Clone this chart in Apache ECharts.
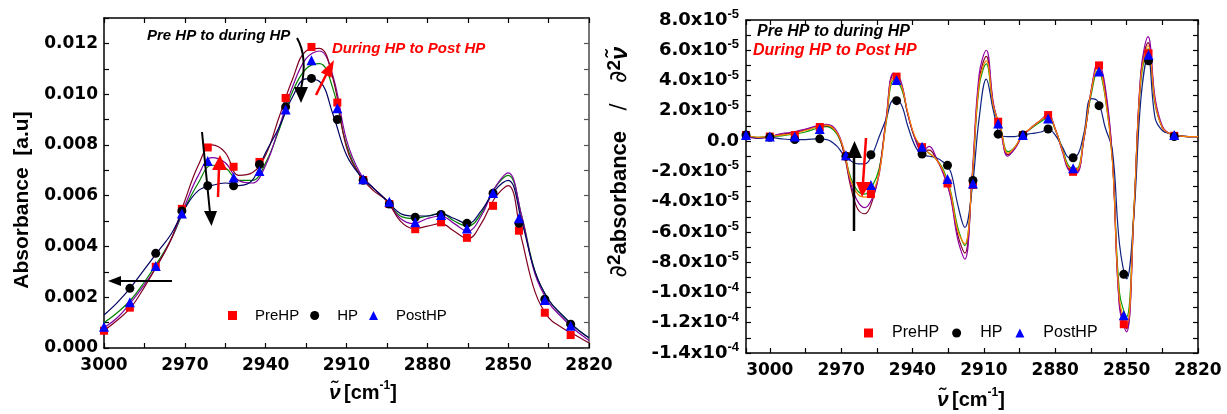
<!DOCTYPE html>
<html><head><meta charset="utf-8">
<script src="https://cdn.jsdelivr.net/npm/echarts@6/dist/echarts.min.js"></script>
<style>html,body{margin:0;padding:0;background:#fff}#c{width:1227px;height:414px}</style>
</head><body><div id="c"></div>
<script>
// ---------- LEFT PANEL: absorbance spectra ----------
const L_WN = [3000,2995,2990,2985,2980,2975,2970,2965,2960,2955,2950,2945,2940,2935,2930,2925,2920,2915,2910,2905,2900,2895,2890,2885,2880,2875,2870,2865,2860,2855,2850,2845,2840,2835,2830,2825,2820];
const L_MAROON = [0.00068,0.0011,0.0016,0.0024,0.0033,0.0043,0.0058,0.0072,0.0080,0.0077,0.0068,0.0069,0.0076,0.0091,0.0106,0.0117,0.0118,0.0106,0.0079,0.0068,0.0062,0.0058,0.0050,0.0047,0.0048,0.0049,0.0046,0.0043,0.0049,0.0059,0.0064,0.0043,0.0022,0.0012,0.0008,0.0005,0.0002];
const L_PURPLE = [0.0008,0.0012,0.0018,0.0025,0.0033,0.0043,0.0056,0.0068,0.0075,0.0073,0.0066,0.0065,0.0072,0.0087,0.0103,0.0114,0.0117,0.0107,0.0082,0.0069,0.0063,0.0058,0.0051,0.0049,0.0051,0.0052,0.0049,0.0046,0.0052,0.0063,0.0069,0.0052,0.0029,0.0018,0.0012,0.0007,0.0003];
const L_GREEN = [0.0010,0.0014,0.0019,0.0026,0.0034,0.0043,0.0055,0.0065,0.0072,0.0071,0.0066,0.0066,0.0073,0.0086,0.0101,0.0110,0.0112,0.0102,0.0080,0.0068,0.0063,0.0058,0.0052,0.0051,0.0052,0.0053,0.0050,0.0048,0.0053,0.0063,0.0068,0.0052,0.0030,0.0019,0.0013,0.0008,0.0004];
const L_NAVY = [0.0013,0.0018,0.0024,0.0031,0.0038,0.0045,0.0055,0.0062,0.0064,0.0065,0.0064,0.0066,0.0077,0.0087,0.0099,0.0106,0.0105,0.0092,0.0076,0.0068,0.0063,0.0058,0.0053,0.0052,0.0052,0.0053,0.0051,0.0049,0.0054,0.0062,0.0066,0.0050,0.0030,0.0019,0.0013,0.0008,0.0004];
// markers
const L_MK_WN = [3000,2990.4,2980.8,2971.1,2961.5,2951.9,2942.3,2932.6,2923.0,2913.4,2903.8,2894.1,2884.5,2874.9,2865.3,2855.6,2846.0,2836.4,2826.8];
const L_PRE  = [0.00068,0.00159,0.00320,0.00548,0.00790,0.00714,0.00733,0.00985,0.01186,0.00967,0.00662,0.00567,0.00468,0.00495,0.00434,0.00560,0.00462,0.00139,0.00051];
const L_HP   = [null,0.00235,0.00373,0.00540,0.00639,0.00639,0.00723,0.00950,0.01062,0.00900,0.00661,0.00567,0.00515,0.00526,0.00491,0.00610,0.00491,0.00192,0.00094];
const L_POST = [0.00084,0.00180,0.00323,0.00530,0.00737,0.00672,0.00697,0.00940,0.01134,0.00944,0.00665,0.00576,0.00495,0.00524,0.00471,0.00611,0.00511,0.00189,0.00088];

// ---------- RIGHT PANEL: second derivative (values in units of 1e-5) ----------
const R_WN = [3010,3005,3000,2995,2990,2985,2980,2976,2972,2969,2966,2963,2960,2957,2954,2951,2948,2945,2942,2939,2936,2933,2930,2927,2924,2921,2918,2915,2912,2909,2906,2903,2900,2897,2894,2890,2886,2883,2880,2877,2874,2871,2868,2865,2862,2859,2856,2853,2850,2847,2844,2841,2838,2835,2832,2828,2824,2820];
const R_ORANGE = [0.4,0.25,0.3,0.4,0.5,0.7,0.95,1.05,0.6,-0.5,-2.6,-3.5,-3.7,-3.4,-2.1,1.4,4.2,3.8,1.9,0.3,-0.4,-0.8,-1.2,-2.0,-3.4,-5.9,-6.8,-2.6,3.8,5.3,2.3,0.9,-0.8,-0.4,0.35,0.9,1.4,1.7,0.8,-0.6,-1.8,-1.9,0.2,3.2,5.0,3.0,-1.3,-10.5,-12.1,-4.8,4.2,6.3,2.5,0.9,0.5,0.35,0.3,0.3];
const R_NAVY = [0.4,0.2,0.25,0.15,0.1,0.1,0.15,0.1,-0.3,-0.9,-1.3,-1.5,-1.5,-0.9,0.3,1.5,2.7,2.5,1.0,-0.3,-0.9,-1.0,-1.1,-1.4,-2.0,-4.2,-5.7,-3.2,1.5,4.1,2.0,0.4,0.3,0.3,0.4,0.5,0.6,0.8,0.4,-0.4,-1.1,-1.0,0.5,2.8,2.6,0.9,-0.6,-6.8,-9.1,-5.0,2.8,5.6,1.5,0.7,0.5,0.35,0.3,0.3];
const R_PURPLE = [0.3,0.2,0.3,0.5,0.6,0.8,1.0,1.1,0.7,-0.5,-2.8,-4.0,-4.4,-3.8,-2.2,1.6,4.5,4.0,1.8,0.2,-0.7,-0.35,-1.1,-2.2,-3.7,-6.5,-7.8,-2.4,4.4,6.0,2.5,0.7,-1.0,-0.5,0.3,0.9,1.4,1.8,0.8,-0.7,-2.0,-2.1,0.1,3.3,5.2,3.6,-1.0,-11.0,-12.6,-5.0,4.6,6.9,2.8,1.0,0.5,0.35,0.3,0.3];
const R_MAROON = [0.35,0.2,0.3,0.45,0.55,0.75,0.95,1.0,0.6,-0.7,-3.0,-4.5,-4.8,-4.0,-2.0,1.6,4.4,3.9,1.8,0.2,-0.6,-0.6,-1.2,-2.1,-3.6,-6.2,-7.4,-2.6,4.0,5.6,2.4,0.8,-0.9,-0.5,0.3,0.9,1.4,1.7,0.8,-0.6,-1.9,-2.0,0.1,3.2,5.1,3.3,-1.1,-10.8,-12.4,-4.9,4.4,6.5,2.6,0.9,0.5,0.35,0.3,0.3];
const R_GREEN = [0.4,0.25,0.3,0.35,0.45,0.6,0.85,0.95,0.5,-0.6,-2.4,-3.3,-3.5,-3.0,-1.8,1.3,4.0,3.6,1.8,0.2,-0.4,-0.8,-1.2,-1.9,-3.3,-5.7,-6.9,-2.7,3.6,5.1,2.2,0.9,-0.7,-0.4,0.35,0.85,1.3,1.55,0.75,-0.5,-1.7,-1.8,0.2,3.0,4.7,2.9,-1.2,-10.0,-11.6,-4.7,4.0,6.1,2.4,0.9,0.5,0.35,0.3,0.3];
// markers
const R_MK_WN = [3010,3000,2989.5,2979,2968,2957.5,2946.7,2936,2925.3,2914.6,2904,2893.6,2883,2872.5,2861.6,2851.2,2840.8,2830];
const R_PRE  = [0.4,0.3,0.4,0.93,-1.0,-3.5,4.26,-0.4,-2.8,-2.9,1.28,0.4,1.72,-2.03,5.0,-12.1,5.8,0.35];
const R_HP   = [0.4,0.25,0.1,0.15,-1.0,-0.9,2.67,-0.86,-1.6,-2.6,0.46,0.4,0.8,-1.1,2.34,-8.8,5.3,0.3];
const R_POST = [0.4,0.3,0.3,0.8,-0.93,-2.9,4.04,-0.38,-2.5,-2.8,1.17,0.4,1.5,-1.8,4.6,-11.5,5.7,0.4];

const LEGEND = ['PreHP','HP','PostHP'];

// ---------- build ----------
const FF = '"Liberation Sans", Arial, Helvetica, sans-serif';
const FD = '"DejaVu Sans", sans-serif';
function pairs(xs, ys){ const o=[]; for(let i=0;i<xs.length;i++){ if(ys[i]!==null) o.push([xs[i], ys[i]]);} return o; }

function xAx(grid, max, top){
  return {
    gridIndex: grid, type:'value', min:2820, max:max, interval:15, inverse:true,
    position: top ? 'top' : 'bottom',
    axisLine:{show:true, onZero:false, lineStyle:{color:'#000', width:1.5}},
    axisTick:{show:true, inside:true, length:5, lineStyle:{color:'#000', width:1.2}},
    splitLine:{show:false},
    axisLabel: top ? {show:false} : {show:true, margin:9, color:'#000', fontFamily:FD, fontWeight:'bold', fontSize:17,
      formatter: v => (Math.round(v)%30===0 && v<=3000) ? String(Math.round(v)) : ''}
  };
}
function yAxL(right){
  return {
    gridIndex:0, type:'value', min:0, max:0.013, interval:0.001, position: right?'right':'left',
    axisLine:{show:true, onZero:false, lineStyle:{color: right?'#777':'#000', width: right?2:1.5}},
    axisTick:{show:true, inside:true, length:5, lineStyle:{color: right?'#555':'#000', width:1.2}},
    splitLine:{show:false},
    axisLabel: right ? {show:false} : {show:true, margin:6, color:'#000', fontFamily:FD, fontWeight:'bold', fontSize:17,
      formatter: v => { const k=Math.round(v*1000); return (k%2===0) ? (k/1000).toFixed(3) : ''; }}
  };
}
function sciLabel(v){
  const r = Math.round(v);
  if (r % 2 !== 0) return '';
  if (r === 0) return '{m|0.0}';
  if (Math.abs(r) >= 10) return '{m|' + (r/10).toFixed(1) + 'x10}{s|-4}';
  return '{m|' + r.toFixed(1) + 'x10}{s|-5}';
}
function yAxR(right){
  return {
    gridIndex:1, type:'value', min:-14, max:8, interval:1, position: right?'right':'left',
    axisLine:{show:true, onZero:false, lineStyle:{color:'#000', width:1.5}},
    axisTick:{show:true, inside:true, length:5, lineStyle:{color:'#000', width:1.2}},
    splitLine:{show:false},
    axisLabel: right ? {show:false} : {show:true, margin:7, color:'#000', formatter: sciLabel,
      rich:{
        m:{fontFamily:FD, fontWeight:'bold', fontSize:18, color:'#000', lineHeight:24},
        s:{fontFamily:FF, fontWeight:'bold', fontSize:13, color:'#000', verticalAlign:'top', lineHeight:24}
      }}
  };
}

function lineS(xi, yi, xs, ys, color, z){
  return {type:'line', xAxisIndex:xi, yAxisIndex:yi, data:pairs(xs, ys), smooth:0.4, showSymbol:false,
    lineStyle:{color:color, width:1.2}, itemStyle:{color:color}, z:z||2, silent:true, animation:false};
}
function mkS(name, xi, yi, xs, ys, symbol, size, color, z){
  return {type:'scatter', name:name, xAxisIndex:xi, yAxisIndex:yi, data:pairs(xs, ys), symbol:symbol, symbolSize:size,
    itemStyle:{color:color, opacity:1}, z:z, animation:false};
}

const series = [
  lineS(0,0,L_WN,L_GREEN,'#008000'),
  lineS(0,0,L_WN,L_PURPLE,'#8000A0'),
  lineS(0,0,L_WN,L_MAROON,'#800020'),
  lineS(0,0,L_WN,L_NAVY,'#000060'),
  mkS('PreHP',0,0,L_MK_WN,L_PRE,'rect',8,'#FF0000',5),
  mkS('HP',0,0,L_MK_WN,L_HP,'circle',9,'#000000',6),
  mkS('PostHP',0,0,L_MK_WN,L_POST,'triangle',10,'#0000FF',7),

  lineS(2,2,R_WN,R_GREEN,'#00A000'),
  lineS(2,2,R_WN,R_MAROON,'#800020'),
  lineS(2,2,R_WN,R_PURPLE,'#9000A0'),
  lineS(2,2,R_WN,R_NAVY,'#102080'),
  lineS(2,2,R_WN,R_ORANGE,'#FF8000'),
  mkS('PreHP',2,2,R_MK_WN,R_PRE,'rect',8,'#FF0000',5),
  mkS('HP',2,2,R_MK_WN,R_HP,'circle',9,'#000000',6),
  mkS('PostHP',2,2,R_MK_WN,R_POST,'triangle',10,'#0000FF',7)
];

function arrow(x1,y1,x2,y2,head,color,w){
  return [
    {type:'line', shape:{x1:x1,y1:y1,x2:x2,y2:y2}, style:{stroke:color, lineWidth:w}, z:100},
    {type:'polygon', shape:{points:head}, style:{fill:color}, z:100}
  ];
}
function txt(x,y,text,font,color){
  return {type:'text', x:x, y:y, z:100, style:{text:text, font:font, fill:color, align:'left', verticalAlign:'middle', textAlign:'left', textVerticalAlign:'middle'}};
}
const bi15 = 'italic bold 15px ' + FF;
const bi16 = 'italic bold 16px ' + FF;

const graphic = [].concat(
  [txt(147,36,'Pre HP to during HP',bi15,'#000'),
   txt(332,49,'During HP to Post HP',bi15,'#FF0000'),
   txt(757,32,'Pre HP to during HP',bi16,'#000'),
   txt(753,51,'During HP to Post HP',bi16,'#FF0000')],
  [{type:'bezierCurve', shape:{x1:297,y1:38,cpx1:307,cpy1:55,cpx2:304,cpy2:75,x2:301,y2:89}, style:{stroke:'#000', lineWidth:2, fill:null}, z:100},
   {type:'polygon', shape:{points:[[294,87],[308,87],[301,103]]}, style:{fill:'#000'}, z:100}],
  arrow(316,95,328,71,[[320.9,72.4],[331.5,77.8],[334,60]],'#FF0000',2.5),
  arrow(202,132,210,213,[[204,211],[217,211],[211.5,226]],'#000',2),
  arrow(218,197,219,168,[[212,170],[227,170],[220,155]],'#FF0000',2.5),
  arrow(172,281,118,281,[[121,276],[121,286],[108,281]],'#000',2),
  arrow(854,231,854,156,[[847,158],[862,158],[854.5,141]],'#000',2.5),
  arrow(866,138,863,183,[[856,182],[871,182],[862,197]],'#FF0000',2.5),
  [
    {type:'text', x:22, y:200, rotation:Math.PI/2, z:100,
      style:{text:'Absorbance  [a.u]', font:'bold 21px ' + FF, fill:'#000', align:'center', verticalAlign:'middle', textAlign:'center', textVerticalAlign:'middle'}},
    {type:'text', x:620, y:162, rotation:Math.PI/2, z:100,
      style:{text:'{d|\u2202}{s|2}{b|absorbance}{g|/}{d|\u2202}{s|2}{n|\u03BD\u0303}', align:'center', verticalAlign:'middle', textAlign:'center', textVerticalAlign:'middle',
        rich:{
          d:{fontFamily:FD, fontSize:24, fill:'#000', color:'#000', lineHeight:30},
          s:{fontFamily:FF, fontWeight:'bold', fontSize:19, fill:'#000', color:'#000', verticalAlign:'top', lineHeight:30},
          b:{fontFamily:FF, fontWeight:'bold', fontSize:22, fill:'#000', color:'#000', lineHeight:30},
          g:{fontFamily:FD, fontSize:21, fill:'#000', color:'#000', lineHeight:30, width:48, align:'center'},
          n:{fontFamily:FF, fontWeight:'bold', fontStyle:'italic', fontSize:24, fill:'#000', color:'#000', lineHeight:30}
        }}},
    {type:'text', x:363, y:393, z:100,
      style:{text:'{n|\u03BD\u0303} {b|[cm}{s|-1}{b|]}', align:'center', verticalAlign:'middle', textAlign:'center', textVerticalAlign:'middle',
        rich:{
          n:{fontFamily:FF, fontWeight:'bold', fontStyle:'italic', fontSize:21, fill:'#000', color:'#000', lineHeight:26},
          b:{fontFamily:FF, fontWeight:'bold', fontSize:20, fill:'#000', color:'#000', lineHeight:26},
          s:{fontFamily:FF, fontWeight:'bold', fontSize:12, fill:'#000', color:'#000', verticalAlign:'top', lineHeight:26}
        }}},
    {type:'text', x:971, y:400, z:100,
      style:{text:'{n|\u03BD\u0303} {b|[cm}{s|-1}{b|]}', align:'center', verticalAlign:'middle', textAlign:'center', textVerticalAlign:'middle',
        rich:{
          n:{fontFamily:FF, fontWeight:'bold', fontStyle:'italic', fontSize:21, fill:'#000', color:'#000', lineHeight:26},
          b:{fontFamily:FF, fontWeight:'bold', fontSize:20, fill:'#000', color:'#000', lineHeight:26},
          s:{fontFamily:FF, fontWeight:'bold', fontSize:12, fill:'#000', color:'#000', verticalAlign:'top', lineHeight:26}
        }}}
  ]
);

const option = {
  animation:false,
  backgroundColor:'#fff',
  grid:[{left:104, top:18, width:485, height:330}, {left:746, top:20, width:452, height:333}],
  xAxis:[xAx(0,3000,false), xAx(0,3000,true), xAx(1,3010,false), xAx(1,3010,true)],
  yAxis:[yAxL(false), yAxL(true), yAxR(false), yAxR(true)],
  legend:[
    {data:LEGEND, left:228, top:308, orient:'horizontal', itemWidth:9, itemHeight:9, itemGap:11, padding:0, selectedMode:false,
      textStyle:{fontFamily:FF, fontSize:15, color:'#000', padding:[0,0,0,13]}},
    {data:LEGEND, left:864, top:325, orient:'horizontal', itemWidth:9, itemHeight:9, itemGap:13, padding:0, selectedMode:false,
      textStyle:{fontFamily:FF, fontSize:16, color:'#000', padding:[0,0,0,14]}}
  ],
  series: series,
  graphic: graphic
};
const chart = echarts.init(document.getElementById('c'), null, {renderer:'canvas'});
chart.setOption(option);
</script></body></html>
